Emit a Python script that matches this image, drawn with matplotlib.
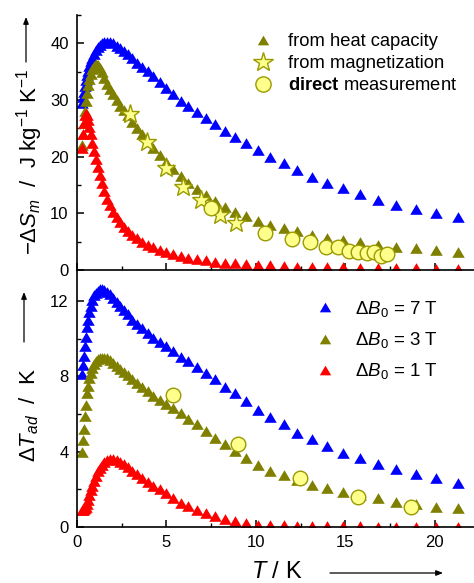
import matplotlib
matplotlib.use("Agg")
import matplotlib.pyplot as plt
from matplotlib.lines import Line2D
from matplotlib.patches import FancyArrowPatch
from matplotlib.ticker import MultipleLocator

plt.rcParams['font.family'] = ['Liberation Sans', 'DejaVu Sans']
plt.rcParams['mathtext.fontset'] = 'custom'
plt.rcParams['mathtext.rm'] = 'Liberation Sans'
plt.rcParams['mathtext.it'] = 'Liberation Sans:italic'
plt.rcParams['mathtext.bf'] = 'Liberation Sans:bold'

# ---------------- data ----------------
T = [0.30, 0.34, 0.38, 0.43, 0.49, 0.55, 0.61, 0.68, 0.76, 0.85,
     0.94, 1.04, 1.15, 1.27, 1.39, 1.53, 1.68, 1.84, 2.02, 2.21,
     2.41, 2.62, 2.85, 3.10, 3.37, 3.65, 3.95, 4.27, 4.62, 4.98,
     5.37, 5.79, 6.23, 6.69, 7.19, 7.71, 8.27, 8.85, 9.47, 10.13,
     10.82, 11.55, 12.32, 13.13, 13.98, 14.88, 15.82, 16.82, 17.86, 18.95,
     20.10, 21.31]

dS_7T = [29.5, 30.5, 31.5, 32.5, 33.5, 34.4, 35.2, 36.0, 36.8, 37.5,
         38.2, 38.8, 39.3, 39.7, 40.0, 40.2, 40.3, 40.2, 40.0, 39.6,
         39.2, 38.7, 38.1, 37.4, 36.6, 35.8, 35.2, 34.3, 33.2, 32.1,
         31.0, 29.9, 28.9, 27.8, 26.8, 25.7, 24.6, 23.5, 22.5, 21.2,
         20.0, 18.8, 17.6, 16.5, 15.4, 14.4, 13.4, 12.4, 11.5, 10.7,
         10.0, 9.3]
dS_3T = [22.0, 24.0, 26.0, 28.0, 29.8, 31.3, 32.6, 33.7, 34.6, 35.4,
         36.0, 36.3, 36.2, 35.7, 34.9, 33.9, 32.9, 32.0, 31.0, 30.0,
         29.0, 28.2, 27.3, 26.2, 25.1, 24.0, 22.8, 21.6, 20.3, 19.1,
         17.8, 16.6, 15.4, 14.3, 13.2, 12.2, 11.2, 10.3, 9.5, 8.7,
         8.0, 7.4, 6.8, 6.2, 5.7, 5.3, 4.9, 4.5, 4.1, 3.8,
         3.5, 3.2]
dS_1T = [21.5, 24.0, 26.0, 27.3, 27.6, 27.3, 26.5, 25.3, 24.0, 22.5,
         21.0, 19.6, 18.2, 16.8, 15.4, 14.0, 12.6, 11.4, 10.3, 9.3,
         8.4, 7.6, 6.9, 6.2, 5.6, 5.0, 4.5, 4.1, 3.6, 3.2,
         2.8, 2.5, 2.2, 1.9, 1.7, 1.5, 1.3, 1.15, 1.0, 0.9,
         0.8, 0.7, 0.6, 0.55, 0.5, 0.45, 0.4, 0.35, 0.3, 0.3,
         0.25, 0.2]

dT_7T = [8.1, 8.6, 9.1, 9.6, 10.1, 10.6, 11.0, 11.4, 11.75, 12.05,
         12.3, 12.45, 12.55, 12.65, 12.65, 12.6, 12.5, 12.35, 12.15, 11.95,
         11.75, 11.5, 11.3, 11.0, 10.8, 10.55, 10.3, 10.05, 9.8, 9.6,
         9.35, 9.05, 8.8, 8.5, 8.2, 7.85, 7.45, 7.1, 6.7, 6.2,
         5.85, 5.45, 5.0, 4.7, 4.3, 3.95, 3.65, 3.35, 3.07, 2.84,
         2.6, 2.35]
dT_3T = [4.0, 4.6, 5.2, 5.9, 6.5, 7.1, 7.5, 7.9, 8.2, 8.45,
         8.65, 8.8, 8.9, 8.95, 9.0, 9.0, 8.95, 8.85, 8.7, 8.55,
         8.4, 8.25, 8.05, 7.85, 7.65, 7.45, 7.2, 6.95, 6.75, 6.55,
         6.3, 6.05, 5.75, 5.45, 5.1, 4.75, 4.4, 4.05, 3.65, 3.3,
         3.0, 2.75, 2.5, 2.25, 2.05, 1.85, 1.7, 1.53, 1.33, 1.2,
         1.06, 1.0]
dT_1T = [0.9, 0.9, 0.95, 1.0, 1.05, 1.2, 1.45, 1.7, 1.95, 2.2,
         2.45, 2.7, 2.95, 3.15, 3.3, 3.45, 3.55, 3.6, 3.6, 3.55,
         3.45, 3.35, 3.2, 3.0, 2.8, 2.6, 2.4, 2.2, 2.0, 1.8,
         1.55, 1.3, 1.1, 0.9, 0.72, 0.57, 0.42, 0.3, 0.2, 0.13,
         0.1, 0.08, 0.06, 0.05, 0.04, 0.03, 0.03, 0.02, 0.02, 0.02,
         0.02, 0.02]

T_mag = [2.96, 3.90, 5.00, 5.90, 6.96, 8.00, 8.90]
dS_mag = [27.5, 22.6, 18.0, 14.7, 12.3, 9.7, 8.3]

T_dirS = [7.5, 10.5, 12.0, 13.05, 13.9, 14.6, 15.2, 15.7, 16.2, 16.6, 17.0, 17.35]
dS_dir = [10.9, 6.6, 5.4, 4.9, 4.1, 4.1, 3.4, 3.1, 3.0, 3.1, 2.5, 2.8]

T_dirT = [5.37, 9.0, 12.46, 15.7, 18.7]
dT_dir = [7.0, 4.43, 2.6, 1.6, 1.05]

xticks = [0, 5, 10, 15, 20]
yticks_S = [0, 10, 20, 30, 40]
yticks_T = [0, 4, 8, 12]

# ---------------- style ----------------
BLUE = '#0000FF'
OLIVE = '#808000'
RED = '#FF0000'
YFILL = '#FFFF8C'
YEDGE = '#9A9A00'
TRI = [(-1, -0.85), (1, -0.85), (0, 0.85)]
MS = 9.0

W, H = 474, 583
fig = plt.figure(figsize=(W / 100, H / 100), dpi=100)

def fx(px):
    return px / W

def fy(py):
    return 1 - py / H

ax1 = fig.add_axes([fx(77), fy(270), 1 - fx(77), (270 - 15) / H])
ax2 = fig.add_axes([fx(77), fy(527), 1 - fx(77), (527 - 270) / H], sharex=ax1)

for ax in (ax1, ax2):
    for s in ('top', 'right'):
        ax.spines[s].set_visible(False)
    for s in ('left', 'bottom'):
        ax.spines[s].set_linewidth(1.2)
    ax.tick_params(which='major', direction='in', length=5, width=1.1,
                   labelsize=12, pad=6)
    ax.tick_params(which='minor', direction='in', length=3, width=1.0)
    ax.set_facecolor('none')

kw = dict(ls='none', marker=TRI, ms=MS, mew=0)
ax1.plot(T, dS_7T, color=BLUE, **kw)
ax1.plot(T, dS_3T, color=OLIVE, **kw)
ax1.plot(T, dS_1T, color=RED, **kw)
ax1.plot(T_mag, dS_mag, ls='none', marker='*', ms=14, mfc=YFILL, mec=YEDGE, mew=1.0)
ax1.plot(T_dirS, dS_dir, ls='none', marker='o', ms=10.5, mfc=YFILL, mec=YEDGE, mew=1.0)

ax2.plot(T, dT_7T, color=BLUE, **kw)
ax2.plot(T, dT_3T, color=OLIVE, **kw)
ax2.plot(T, dT_1T, color=RED, **kw)
ax2.plot(T_dirT, dT_dir, ls='none', marker='o', ms=10.5, mfc=YFILL, mec=YEDGE, mew=1.0)

ax1.set_xlim(0, 22.2)
ax1.set_ylim(0, 45)
ax2.set_ylim(0, 13.65)
ax2.set_xticks(xticks)
ax2.xaxis.set_minor_locator(MultipleLocator(2.5))
ax1.set_yticks(yticks_S)
ax1.yaxis.set_minor_locator(MultipleLocator(5))
ax2.set_yticks(yticks_T)
ax2.yaxis.set_minor_locator(MultipleLocator(2))
ax1.tick_params(labelbottom=False)

# legends
kwl = dict(ls='none', marker=TRI, ms=8.2, mew=0)
h1 = [Line2D([], [], color=OLIVE, **kwl),
      Line2D([], [], ls='none', marker='*', ms=15, mfc=YFILL, mec=YEDGE, mew=1.0),
      Line2D([], [], ls='none', marker='o', ms=11, mfc=YFILL, mec=YEDGE, mew=1.0)]
l1 = ['from heat capacity', 'from magnetization', r'$\mathbf{direct}$ measurement']
leg1 = ax1.legend(h1, l1, loc='upper left', bbox_to_anchor=(fx(254), fy(33)),
                  bbox_transform=fig.transFigure, frameon=False, fontsize=13.2,
                  handlelength=1.0, handletextpad=0.85, labelspacing=0.28,
                  borderpad=0, borderaxespad=0)

h2 = [Line2D([], [], color=BLUE, **kwl),
      Line2D([], [], color=OLIVE, **kwl),
      Line2D([], [], color=RED, **kwl)]
l2 = [r'$\Delta B_0$ = 7 T', r'$\Delta B_0$ = 3 T', r'$\Delta B_0$ = 1 T']
leg2 = ax2.legend(h2, l2, loc='upper left', bbox_to_anchor=(fx(316), fy(299)),
                  bbox_transform=fig.transFigure, frameon=False, fontsize=13.5,
                  handlelength=1.0, handletextpad=1.1, labelspacing=0.6,
                  borderpad=0, borderaxespad=0)

# axis labels
fig.text(fx(30), fy(162), r'$-\Delta S_m$  /  J kg$^{-1}$ K$^{-1}$', rotation=90,
         ha='center', va='center', fontsize=16)
fig.text(fx(29), fy(415), r'$\Delta T_{ad}$  /  K', rotation=90,
         ha='center', va='center', fontsize=16)
fig.text(fx(277), fy(572), r'$T$ / K', ha='center', va='center', fontsize=17)

def arrow(x0, y0, x1, y1):
    a = FancyArrowPatch((fx(x0), fy(y0)), (fx(x1), fy(y1)),
                        transform=fig.transFigure, arrowstyle='-|>,head_length=4,head_width=1.6',
                        lw=0.9, color='black', shrinkA=0, shrinkB=0)
    fig.add_artist(a)

arrow(26, 62, 26, 17)
arrow(24, 342, 24, 292)
arrow(330, 573, 443, 573)

fig.savefig('out.png', dpi=100)
